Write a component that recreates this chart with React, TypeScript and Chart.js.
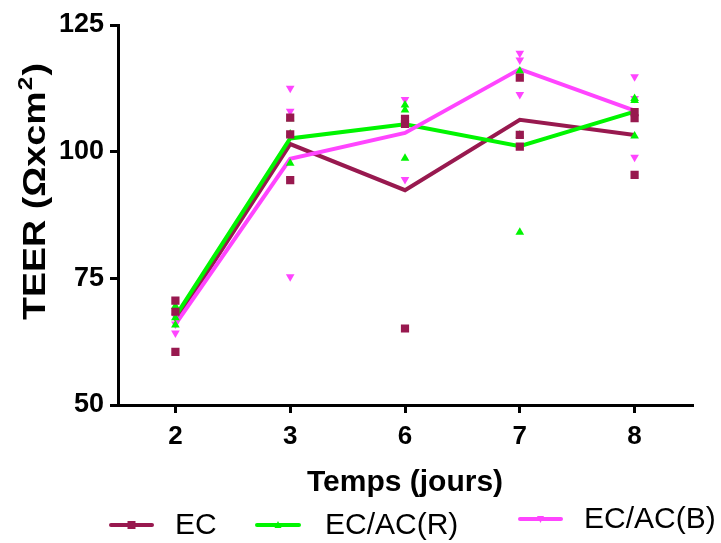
import React, { useEffect, useRef } from 'react';
import { Chart, registerables } from 'chart.js';

Chart.register(...registerables);

const categories = ['2', '3', '6', '7', '8'];
const seriesNames = ['EC', 'EC/AC(R)', 'EC/AC(B)'];
const xTitle = 'Temps (jours)';
const yTitleMain = 'TEER (Ωxcm';
const yTitleSup = '2';
const yTitleEnd = ')';
const yMin = 50;
const yMax = 125;
const yStep = 25;

// EC
const ecMean = [66.5, 101.5, 92.4, 106.3, 103.3];
const ecRep1 = [70.6, 106.7, 106.5, 114.6, 107.8];
const ecRep2 = [68.4, 103.4, 105.5, 103.3, 106.6];
const ecRep3 = [60.5, 94.4, 65.1, 101.0, 95.4];
// EC/AC(R)
const rMean = [67.5, 102.6, 105.4, 101.1, 107.9];
const rRep1 = [69.5, 106.5, 109.2, 115.9, 110.1];
const rRep2 = [67.2, 103.5, 108.2, 103.3, 110.5];
const rRep3 = [65.8, 97.7, 98.7, 84.1, 103.1];
// EC/AC(B)
const bMean = [65.9, 98.6, 103.7, 116.3, 108.1];
const bRep1 = [67.5, 112.5, 110.3, 119.4, 114.8];
const bRep2 = [66.0, 108.0, 106.3, 118.1, 110.5];
const bRep3 = [64.2, 75.3, 94.5, 111.3, 98.9];

const COLORS = ['#98194f', '#00f500', '#ff45ff'];
const FONT = '"Liberation Sans", Arial, Helvetica, sans-serif';

type Style = { pointStyle: string; rotation: number; radius: number };
const STYLES: Style[] = [
  { pointStyle: 'rect', rotation: 0, radius: 5.8 },
  { pointStyle: 'triangle', rotation: 0, radius: 5 },
  { pointStyle: 'triangle', rotation: 180, radius: 5 },
];

function meanDs(label: string, data: number[], i: number) {
  return {
    label,
    data,
    borderColor: COLORS[i],
    backgroundColor: COLORS[i],
    borderWidth: 4,
    pointRadius: 0,
    pointHoverRadius: 0,
    tension: 0,
    order: 10 - i,
  };
}

function repDs(label: string, data: number[], i: number) {
  const s = STYLES[i];
  return {
    label,
    data,
    showLine: false,
    borderColor: COLORS[i],
    backgroundColor: COLORS[i],
    borderWidth: 0,
    pointStyle: s.pointStyle,
    rotation: s.rotation,
    pointRotation: s.rotation,
    pointRadius: s.radius,
    pointBorderWidth: 0,
    order: 1,
  };
}

const legendTitlePlugin = {
  id: 'legendTitle',
  afterDraw(chart: any) {
    const ctx = chart.ctx as CanvasRenderingContext2D;
    const area = chart.chartArea;
    ctx.save();
    // x title
    ctx.fillStyle = '#000';
    ctx.font = `bold 30px ${FONT}`;
    ctx.textAlign = 'center';
    ctx.textBaseline = 'middle';
    ctx.fillText(xTitle, (area.left + area.right) / 2, 483);

    // y title: drawn rotated, from bottom (y=320) upward to fit reference length
    ctx.save();
    ctx.translate(45, 320);
    ctx.rotate(-Math.PI / 2);
    ctx.textAlign = 'left';
    ctx.textBaseline = 'alphabetic';
    const mainFont = `bold 31px ${FONT}`;
    const supFont = `bold 20px ${FONT}`;
    ctx.font = mainFont;
    const w1 = ctx.measureText(yTitleMain).width;
    const w3 = ctx.measureText(yTitleEnd).width;
    ctx.font = supFont;
    const w2 = ctx.measureText(yTitleSup).width;
    const total = w1 + w2 + w3 + 2;
    const targetLen = 257;
    ctx.scale(targetLen / total, 1);
    ctx.font = mainFont;
    ctx.fillText(yTitleMain, 0, 0);
    ctx.font = supFont;
    ctx.fillText(yTitleSup, w1 + 1, -13);
    ctx.font = mainFont;
    ctx.fillText(yTitleEnd, w1 + w2 + 2, 0);
    ctx.restore();

    // legend
    const items = [
      { x0: 111, x1: 152, tx: 175, y: 525 },
      { x0: 257, x1: 299, tx: 325, y: 525 },
      { x0: 520, x1: 561, tx: 584, y: 519 },
    ];
    items.forEach((it, i) => {
      ctx.strokeStyle = COLORS[i];
      ctx.fillStyle = COLORS[i];
      ctx.lineWidth = 4;
      ctx.lineCap = 'round';
      ctx.beginPath();
      ctx.moveTo(it.x0, it.y);
      ctx.lineTo(it.x1, it.y);
      ctx.stroke();
      const cx = (it.x0 + it.x1) / 2;
      ctx.beginPath();
      if (i === 0) {
        ctx.rect(cx - 4, it.y - 4, 8, 8);
      } else if (i === 1) {
        ctx.moveTo(cx - 3.5, it.y + 3);
        ctx.lineTo(cx + 3.5, it.y + 3);
        ctx.lineTo(cx, it.y - 4);
      } else {
        ctx.moveTo(cx - 3.5, it.y - 3);
        ctx.lineTo(cx + 3.5, it.y - 3);
        ctx.lineTo(cx, it.y + 4);
      }
      ctx.closePath();
      ctx.fill();
      ctx.fillStyle = '#000';
      ctx.font = `30px ${FONT}`;
      ctx.textAlign = 'left';
      ctx.textBaseline = 'middle';
      ctx.fillText(seriesNames[i], it.tx, it.y + 1);
    });
    ctx.restore();
  },
};

export default function App() {
  const ref = useRef<HTMLCanvasElement | null>(null);
  useEffect(() => {
    if (!ref.current) return;
    const chart = new Chart(ref.current, {
      type: 'line',
      data: {
        labels: categories,
        datasets: [
          meanDs(seriesNames[0], ecMean, 0),
          meanDs(seriesNames[1], rMean, 1),
          meanDs(seriesNames[2], bMean, 2),
          repDs('EC r1', ecRep1, 0),
          repDs('EC r2', ecRep2, 0),
          repDs('EC r3', ecRep3, 0),
          repDs('R r1', rRep1, 1),
          repDs('R r2', rRep2, 1),
          repDs('R r3', rRep3, 1),
          repDs('B r1', bRep1, 2),
          repDs('B r2', bRep2, 2),
          repDs('B r3', bRep3, 2),
        ] as any,
      },
      options: {
        animation: false,
        responsive: false,
        layout: { padding: { top: 25, right: 29, left: 0, bottom: 0 } },
        plugins: {
          legend: { display: false },
          tooltip: { enabled: false },
        },
        scales: {
          x: {
            type: 'category',
            offset: true,
            afterFit: (s: any) => {
              s.height = 138;
            },
            grid: {
              display: true,
              drawOnChartArea: false,
              drawTicks: true,
              tickLength: 8,
              tickWidth: 3,
              color: '#000',
              lineWidth: 3,
              offset: false,
            },
            border: { display: true, color: '#000', width: 3 },
            ticks: {
              color: '#000',
              padding: 8,
              font: { family: FONT, size: 26, weight: 'bold' },
            },
          },
          y: {
            min: yMin,
            max: yMax,
            afterFit: (s: any) => {
              s.width = 118;
            },
            grid: {
              display: true,
              drawOnChartArea: false,
              drawTicks: true,
              tickLength: 8,
              tickWidth: 3,
              color: '#000',
              lineWidth: 3,
            },
            border: { display: true, color: '#000', width: 3 },
            ticks: {
              stepSize: yStep,
              color: '#000',
              padding: 6,
              font: { family: FONT, size: 27, weight: 'bold' },
            },
          },
        },
      } as any,
      plugins: [legendTitlePlugin],
    });
    return () => chart.destroy();
  }, []);
  return (
    <div style={{ position: 'absolute', left: 0, top: 0, width: 721, height: 543, background: '#fff' }}>
      <canvas ref={ref} width={721} height={543} style={{ display: 'block' }} />
    </div>
  );
}
